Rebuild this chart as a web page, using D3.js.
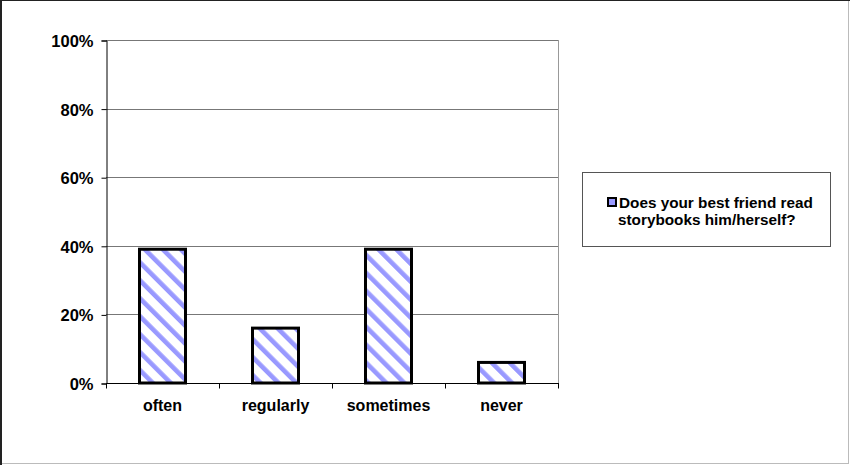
<!DOCTYPE html>
<html>
<head>
<meta charset="utf-8">
<script src="https://cdn.jsdelivr.net/npm/d3@7"></script>
<style>
  body { margin: 0; background: #fff; }
  text { font-family: "Liberation Sans", Arial, sans-serif; font-weight: bold; fill: #000; }
</style>
</head>
<body>
<svg id="mainsvg" width="850" height="465"></svg>
<script>
// chart data
let categories = ["often", "regularly", "sometimes", "never"];
let values = [0.39, 0.16, 0.39, 0.06];
let yTicks = [0, 0.2, 0.4, 0.6, 0.8, 1.0];
let seriesName = ["Does your best friend read", "storybooks him/herself?"];

let svg = d3.select("#mainsvg");
let plot = {left: 106, top: 40, right: 558, bottom: 383};

// outer frame
svg.append("rect").attr("x", 0.5).attr("y", 0.5).attr("width", 848).attr("height", 463)
    .attr("fill", "#fff").attr("stroke", "#bbb");
svg.append("line").attr("x1", 0).attr("x2", 850).attr("y1", 0.5).attr("y2", 0.5).attr("stroke", "#222");
svg.append("line").attr("x1", 1).attr("x2", 1).attr("y1", 0).attr("y2", 465).attr("stroke", "#222").attr("stroke-width", 2);

// hatch pattern
let defs = svg.append("defs");
let pat = defs.append("pattern")
    .attr("id", "hatch")
    .attr("patternUnits", "userSpaceOnUse")
    .attr("width", 12.7).attr("height", 12.7)
    .attr("patternTransform", "rotate(-45)");
pat.append("rect").attr("width", 12.7).attr("height", 12.7).attr("fill", "#fff");
pat.append("rect").attr("x", 0).attr("width", 4.6).attr("height", 12.7).attr("fill", "#9999ff");

let x = d3.scaleBand().domain(categories).range([plot.left, plot.right]).paddingInner(0).paddingOuter(0);
let y = d3.scaleLinear().domain([0, 1]).range([plot.bottom, plot.top]);

// gridlines
svg.append("g").selectAll("line").data(yTicks.slice(1)).enter()
    .append("line")
    .attr("x1", plot.left).attr("x2", plot.right)
    .attr("y1", d => Math.round(y(d)) + 0.5).attr("y2", d => Math.round(y(d)) + 0.5)
    .attr("stroke", "#777").attr("stroke-width", 1);

// right border of plot
svg.append("line").attr("x1", plot.right + 0.5).attr("x2", plot.right + 0.5)
    .attr("y1", plot.top).attr("y2", plot.bottom).attr("stroke", "#999");

// bars
let barW = 46;
svg.append("g").selectAll("rect").data(values).enter()
    .append("rect")
    .attr("x", (d, i) => x(categories[i]) + (x.bandwidth() - barW) / 2)
    .attr("y", d => y(d))
    .attr("width", barW)
    .attr("height", d => plot.bottom - y(d))
    .attr("fill", "url(#hatch)")
    .attr("stroke", "#000").attr("stroke-width", 3);

// y axis
let yAxis = d3.axisLeft(y).tickValues(yTicks).tickFormat(d3.format(".0%")).tickSizeOuter(0).tickSize(5).tickPadding(8);
let yg = svg.append("g").attr("transform", "translate(" + (plot.left + 0.5) + ",0.5)").call(yAxis);
yg.attr("font-size", null).attr("font-family", null);
yg.selectAll("line, path").attr("stroke", "#000");
yg.selectAll("text").style("font-size", "16.5px").attr("dy", "0.36em");

// x axis
let xg = svg.append("g").attr("transform", "translate(0," + (plot.bottom + 0.5) + ")");
xg.append("line").attr("x1", plot.left).attr("x2", plot.right + 1).attr("stroke", "#000");
let bounds = categories.map(c => x(c)).concat([plot.right]);
xg.selectAll(".xtick").data(bounds).enter()
    .append("line").attr("class", "xtick")
    .attr("x1", d => d + 0.5).attr("x2", d => d + 0.5)
    .attr("y1", 0).attr("y2", 5).attr("stroke", "#000");
xg.selectAll(".xlab").data(categories).enter()
    .append("text").attr("class", "xlab")
    .attr("x", d => x(d) + x.bandwidth() / 2)
    .attr("y", 27)
    .attr("text-anchor", "middle")
    .style("font-size", "16px")
    .text(d => d);

// legend
let lg = svg.append("g").attr("transform", "translate(582,172)");
lg.append("rect").attr("x", 0.5).attr("y", 0.5).attr("width", 248).attr("height", 74)
    .attr("fill", "#fff").attr("stroke", "#555");
lg.append("rect").attr("x", 26).attr("y", 26).attr("width", 8).attr("height", 8)
    .attr("fill", "#9999ff").attr("stroke", "#000").attr("stroke-width", 2);
lg.selectAll(".ltxt").data(seriesName).enter()
    .append("text").attr("class", "ltxt")
    .attr("x", (d, i) => i === 0 ? 37 : 36)
    .attr("y", (d, i) => 36 + i * 17)
    .style("font-size", "15.3px")
    .text(d => d);
</script>
</body>
</html>
